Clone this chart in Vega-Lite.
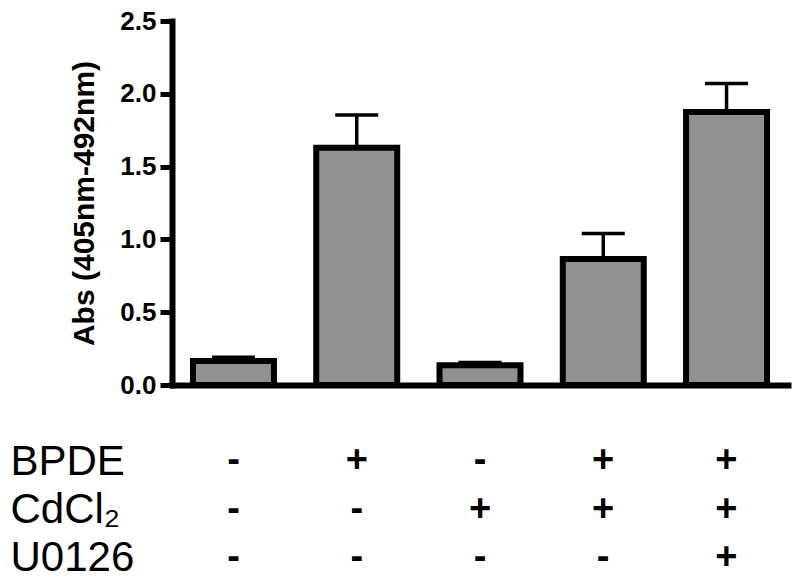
{
  "$schema": "https://vega.github.io/schema/vega-lite/v6.json",
  "background": "white",
  "padding": {"left": 10, "top": 8, "right": 12, "bottom": 0},
  "config": {"view": {"stroke": null}, "font": "Liberation Sans"},
  "datasets": {
    "bars": [
      {"group": "g1", "mean": 0.165, "upper": 0.19},
      {"group": "g2", "mean": 1.63, "upper": 1.855},
      {"group": "g3", "mean": 0.135, "upper": 0.155},
      {"group": "g4", "mean": 0.865, "upper": 1.04},
      {"group": "g5", "mean": 1.875, "upper": 2.07}
    ],
    "table": [
      {"group": "g1", "row": "BPDE", "sign": "-"},
      {"group": "g2", "row": "BPDE", "sign": "+"},
      {"group": "g3", "row": "BPDE", "sign": "-"},
      {"group": "g4", "row": "BPDE", "sign": "+"},
      {"group": "g5", "row": "BPDE", "sign": "+"},
      {"group": "g1", "row": "CdCl₂", "sign": "-"},
      {"group": "g2", "row": "CdCl₂", "sign": "-"},
      {"group": "g3", "row": "CdCl₂", "sign": "+"},
      {"group": "g4", "row": "CdCl₂", "sign": "+"},
      {"group": "g5", "row": "CdCl₂", "sign": "+"},
      {"group": "g1", "row": "U0126", "sign": "-"},
      {"group": "g2", "row": "U0126", "sign": "-"},
      {"group": "g3", "row": "U0126", "sign": "-"},
      {"group": "g4", "row": "U0126", "sign": "-"},
      {"group": "g5", "row": "U0126", "sign": "+"}
    ]
  },
  "spacing": 39,
  "vconcat": [
    {
      "width": 616,
      "height": 364,
      "data": {"name": "bars"},
      "encoding": {
        "x": {
          "field": "group", "type": "nominal", "sort": null,
          "scale": {"paddingInner": 0.343, "paddingOuter": 0.17},
          "axis": {"labels": false, "ticks": false, "title": null, "domainColor": "black", "domainWidth": 6, "domainCap": "square"}
        }
      },
      "layer": [
        {
          "mark": {"type": "bar", "fill": "#909090", "stroke": "black", "strokeWidth": 6, "opacity": 1},
          "encoding": {
            "y": {
              "field": "mean", "type": "quantitative",
              "scale": {"domain": [0, 2.5], "nice": false},
              "axis": {
                "values": [0, 0.5, 1, 1.5, 2, 2.5], "format": ".1f",
                "grid": false,
                "labelFontSize": 26, "labelFontWeight": "bold", "labelColor": "black", "labelPadding": 4,
                "tickSize": 12, "tickWidth": 5, "tickColor": "black",
                "domainColor": "black", "domainWidth": 6, "domainCap": "square",
                "title": "Abs (405nm-492nm)", "titleFontSize": 30, "titleFontWeight": "bold", "titleColor": "black", "titlePadding": 20
              }
            }
          }
        },
        {
          "mark": {"type": "rule", "color": "black", "strokeWidth": 3.5, "opacity": 1},
          "encoding": {
            "y": {"field": "mean", "type": "quantitative"},
            "y2": {"field": "upper"}
          }
        },
        {
          "mark": {"type": "tick", "color": "black", "size": 43, "thickness": 3.5, "opacity": 1},
          "encoding": {
            "y": {"field": "upper", "type": "quantitative"}
          }
        }
      ]
    },
    {
      "width": 616,
      "height": 145,
      "data": {"name": "table"},
      "mark": {"type": "text", "fontSize": 38, "fontWeight": "bold", "color": "black", "baseline": "middle", "align": "center"},
      "encoding": {
        "x": {
          "field": "group", "type": "nominal", "sort": null,
          "scale": {"paddingInner": 0.343, "paddingOuter": 0.17},
          "axis": null
        },
        "y": {
          "field": "row", "type": "nominal", "sort": ["BPDE", "CdCl₂", "U0126"],
          "scale": {"paddingInner": 0, "paddingOuter": 0},
          "axis": {"ticks": false, "domain": false, "title": null, "labelAlign": "left", "labelPadding": 162, "labelFontSize": 42, "labelColor": "black", "labelLimit": 0}
        },
        "text": {"field": "sign"}
      }
    }
  ]
}
